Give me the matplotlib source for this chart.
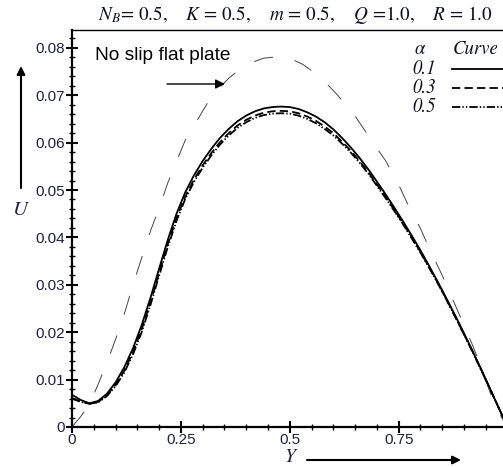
import matplotlib
matplotlib.use("Agg")
import matplotlib.pyplot as plt

plt.rcParams['mathtext.fontset'] = 'stix'
plt.rcParams['lines.scale_dashes'] = False

# ---------------- data ----------------
Y = [0.00, 0.02, 0.04, 0.06, 0.08, 0.10, 0.12, 0.14, 0.16, 0.18,
     0.20, 0.22, 0.24, 0.26, 0.28, 0.30, 0.32, 0.34, 0.36, 0.38,
     0.40, 0.42, 0.44, 0.46, 0.48, 0.50, 0.52, 0.54, 0.56, 0.58,
     0.60, 0.62, 0.64, 0.66, 0.68, 0.70, 0.72, 0.74, 0.76, 0.78,
     0.80, 0.82, 0.84, 0.86, 0.88, 0.90, 0.92, 0.94, 0.96, 0.98, 1.00]

U_alpha01 = [0.0068, 0.0057, 0.0050, 0.0055, 0.0070, 0.0094, 0.0126, 0.0166, 0.0215, 0.0272,
             0.0334, 0.0395, 0.0450, 0.0495, 0.0531, 0.0561, 0.0587, 0.0610, 0.0629, 0.0645,
             0.0657, 0.0666, 0.0672, 0.0675, 0.0676, 0.0675, 0.0671, 0.0664, 0.0655, 0.0643,
             0.0628, 0.0610, 0.0590, 0.0568, 0.0544, 0.0518, 0.0491, 0.0463, 0.0434, 0.0404,
             0.0373, 0.0340, 0.0306, 0.0271, 0.0235, 0.0198, 0.0160, 0.0121, 0.0081, 0.0040, 0.0000]

U_alpha03 = [0.0061, 0.0054, 0.0049, 0.0053, 0.0067, 0.0089, 0.0119, 0.0158, 0.0206, 0.0263,
             0.0325, 0.0386, 0.0441, 0.0486, 0.0522, 0.0552, 0.0578, 0.0601, 0.0620, 0.0636,
             0.0648, 0.0657, 0.0663, 0.0666, 0.0667, 0.0666, 0.0662, 0.0655, 0.0646, 0.0634,
             0.0620, 0.0602, 0.0583, 0.0561, 0.0538, 0.0512, 0.0486, 0.0458, 0.0430, 0.0400,
             0.0370, 0.0337, 0.0304, 0.0269, 0.0233, 0.0196, 0.0159, 0.0120, 0.0080, 0.0040, 0.0000]

U_alpha05 = [0.0060, 0.0053, 0.0049, 0.0052, 0.0065, 0.0086, 0.0115, 0.0153, 0.0200, 0.0257,
             0.0319, 0.0380, 0.0435, 0.0481, 0.0517, 0.0547, 0.0573, 0.0596, 0.0615, 0.0631,
             0.0643, 0.0652, 0.0658, 0.0661, 0.0662, 0.0661, 0.0657, 0.0650, 0.0641, 0.0629,
             0.0615, 0.0598, 0.0579, 0.0558, 0.0535, 0.0509, 0.0483, 0.0456, 0.0428, 0.0398,
             0.0368, 0.0336, 0.0303, 0.0268, 0.0232, 0.0195, 0.0158, 0.0119, 0.0080, 0.0040, 0.0000]

Y_flat = [0.00, 0.02, 0.04, 0.06, 0.08, 0.10, 0.12, 0.14, 0.16, 0.18,
          0.20, 0.22, 0.24, 0.26, 0.29, 0.32, 0.36, 0.40, 0.44, 0.47,
          0.50, 0.53, 0.57, 0.61, 0.65, 0.70, 0.72, 0.75, 0.77, 0.80,
          0.82, 0.85, 0.87, 0.90, 0.92, 0.94, 0.96, 0.98, 1.00]
U_flat = [0.0000, 0.0022, 0.0048, 0.0090, 0.0135, 0.0185, 0.0238, 0.0300, 0.0357, 0.0413,
          0.0462, 0.0515, 0.0560, 0.0605, 0.0651, 0.0697, 0.0736, 0.0765, 0.0778, 0.0781,
          0.0778, 0.0765, 0.0739, 0.0700, 0.0656, 0.0588, 0.0562, 0.0511, 0.0472, 0.0419,
          0.0378, 0.0320, 0.0278, 0.0215, 0.0172, 0.0125, 0.0073, 0.0030, 0.0000]

alpha_labels = ["0.1", "0.3", "0.5"]
x_ticks = [0, 0.25, 0.5, 0.75]
x_tick_labels = ["0", "0.25", "0.5", "0.75"]
y_ticks = [0, 0.01, 0.02, 0.03, 0.04, 0.05, 0.06, 0.07, 0.08]
y_tick_labels = ["0", "0.01", "0.02", "0.03", "0.04", "0.05", "0.06", "0.07", "0.08"]

# ---------------- figure ----------------
W, H = 503, 467
fig = plt.figure(figsize=(W / 100, H / 100), dpi=100)
x0, x1 = 72, 507.5
y0, y1 = 427, 30
ax = fig.add_axes([x0 / W, (H - y0) / H, (x1 - x0) / W, (y0 - y1) / H])
ax.set_xlim(0, 1)
ax.set_ylim(0, (y0 - y1) / 4740.0)

ax.plot(Y_flat, U_flat, color='#444444', lw=0.7, dashes=(14, 16))
ax.plot(Y, U_alpha01, color='black', lw=1.3)
ax.plot(Y, U_alpha03, color='black', lw=1.3, dashes=(6, 3))
ax.plot(Y, U_alpha05, color='black', lw=1.3, dashes=(6, 1.5, 1, 1.5, 1, 1.5))

ax.spines['right'].set_visible(False)
ax.spines['left'].set_linewidth(1.6)
ax.spines['bottom'].set_linewidth(1.6)
ax.spines['top'].set_linewidth(1.0)

tick_color = '#1d2240'
ax.set_xticks(x_ticks)
ax.set_xticklabels(x_tick_labels)
ax.set_yticks(y_ticks)
ax.set_yticklabels(y_tick_labels)
ax.set_xticks([i * 0.05 for i in range(20)], minor=True)
ax.set_yticks([i * 0.002 for i in range(42)], minor=True)
ax.tick_params(which='major', direction='inout', length=8, width=1.5,
               labelsize=11, labelcolor=tick_color, pad=1)
ax.tick_params(axis='x', which='major', pad=0)
ax.tick_params(which='minor', direction='inout', length=5, width=1.0)
for lab in ax.get_xticklabels() + ax.get_yticklabels():
    lab.set_fontfamily('Liberation Sans')

# Title
fig.text(295 / W, (H - 15) / H,
         r"$N_B$= 0.5,    $K$ = 0.5,    $m$ = 0.5,    $Q$ =1.0,    $R$ = 1.0",
         ha='center', va='center', fontsize=13.8, family='STIXGeneral', color='#111122')

# Legend (manual)
serif = 'STIXGeneral'
fig.text(420 / W, (H - 49) / H, r"$\alpha$", ha='center', va='center', fontsize=13.5, color='#111122')
fig.text(453 / W, (H - 49) / H, "Curve", ha='left', va='center', fontsize=13.5,
         family=serif, style='italic', color='#111122')
legend_y = [69, 88, 107]
legend_styles = [dict(), dict(dashes=(6, 3)), dict(dashes=(6, 1.5, 1, 1.5, 1, 1.5))]
for lab, yy, st in zip(alpha_labels, legend_y, legend_styles):
    fig.text(424 / W, (H - yy) / H, lab, ha='center', va='center', fontsize=13.5,
             family=serif, style='italic', color='#111122')
    ln = plt.Line2D([452 / W, 505 / W], [(H - yy) / H, (H - yy) / H],
                    transform=fig.transFigure, color='black', lw=1.3, **st)
    fig.add_artist(ln)

# Annotation
fig.text(95 / W, (H - 55) / H, "No slip flat plate", ha='left', va='center',
         fontsize=13.8, family='Liberation Sans', color='black')
ax.annotate("", xy=(225, H - 84), xytext=(167, H - 84), xycoords='figure pixels',
            textcoords='figure pixels',
            arrowprops=dict(arrowstyle='-|>', color='black', lw=1.0,
                            mutation_scale=14, shrinkA=0, shrinkB=0))

# Axis labels with arrows
fig.text(20 / W, (H - 210) / H, "U", ha='center', va='center', fontsize=15,
         family=serif, style='italic', color='#1d2240')
ax.annotate("", xy=(21, H - 66), xytext=(21, H - 188), xycoords='figure pixels',
            textcoords='figure pixels',
            arrowprops=dict(arrowstyle='-|>', color='black', lw=1.5,
                            mutation_scale=12, shrinkA=0, shrinkB=0))
fig.text(290 / W, (H - 457) / H, "Y", ha='center', va='center', fontsize=14,
         family=serif, style='italic', color='#1d2240')
ax.annotate("", xy=(461, H - 460), xytext=(307, H - 460), xycoords='figure pixels',
            textcoords='figure pixels',
            arrowprops=dict(arrowstyle='-|>', color='black', lw=1.5,
                            mutation_scale=12, shrinkA=0, shrinkB=0))

fig.savefig("out.png", dpi=100)
